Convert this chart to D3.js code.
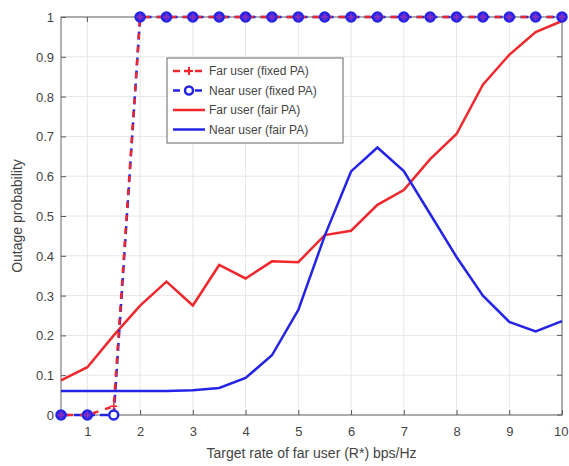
<!DOCTYPE html>
<html>
<head>
<meta charset="utf-8">
<script src="https://cdn.jsdelivr.net/npm/d3@7"></script>
<style>
html, body { margin: 0; padding: 0; background: #fff; overflow: hidden; }
svg { display: block; font-family: "Liberation Sans", Arial, sans-serif; }
</style>
</head>
<body>
<script>
// target rate values (x axis)
let rates = [0.5, 1, 1.5, 2, 2.5, 3, 3.5, 4, 4.5, 5, 5.5, 6, 6.5, 7, 7.5, 8, 8.5, 9, 9.5, 10];

// outage probability
let farFixed = [0, 0, 0.022, 1, 1, 1, 1, 1, 1, 1, 1, 1, 1, 1, 1, 1, 1, 1, 1, 1];
let nearFixed = [0, 0, 0, 1, 1, 1, 1, 1, 1, 1, 1, 1, 1, 1, 1, 1, 1, 1, 1, 1];
let farFair = [0.087, 0.12, 0.2, 0.275, 0.335, 0.275, 0.377, 0.343, 0.386, 0.384, 0.452, 0.463, 0.528, 0.565, 0.643, 0.706, 0.83, 0.905, 0.962, 0.99];
let nearFair = [0.06, 0.06, 0.06, 0.06, 0.06, 0.062, 0.068, 0.093, 0.15, 0.264, 0.45, 0.612, 0.672, 0.613, 0.505, 0.397, 0.3, 0.234, 0.21, 0.236];

let xTicks = [1, 2, 3, 4, 5, 6, 7, 8, 9, 10];
let yTicks = [0, 0.1, 0.2, 0.3, 0.4, 0.5, 0.6, 0.7, 0.8, 0.9, 1];

let legendNames = ["Far user (fixed PA)", "Near user (fixed PA)", "Far user (fair PA)", "Near user (fair PA)"];

let width = 569, height = 466;
let margin = { top: 17, right: 7, bottom: 51, left: 61 };
let innerWidth = width - margin.left - margin.right;
let innerHeight = height - margin.top - margin.bottom;

let red = "#f0282d", blue = "#2424e6";

let svg = d3.select("body").append("svg")
	.attr("width", width)
	.attr("height", height);

let g = svg.append("g")
	.attr("transform", `translate(${margin.left}, ${margin.top})`);

let x = d3.scaleLinear().domain([0.5, 10]).range([0, innerWidth]);
let y = d3.scaleLinear().domain([0, 1]).range([innerHeight, 0]);

//grid lines
g.append("g").selectAll("line").data(xTicks).join("line")
	.attr("x1", d => x(d)).attr("x2", d => x(d))
	.attr("y1", 0).attr("y2", innerHeight)
	.attr("stroke", "#e6e6e6");
g.append("g").selectAll("line").data(yTicks).join("line")
	.attr("y1", d => y(d)).attr("y2", d => y(d))
	.attr("x1", 0).attr("x2", innerWidth)
	.attr("stroke", "#e6e6e6");

//axes with inward ticks
let tickColor = "#555";
let xAxis = g.append("g")
	.attr("transform", `translate(0, ${innerHeight})`)
	.call(d3.axisBottom(x).tickValues(xTicks).tickSizeInner(-5).tickSizeOuter(0));
let yAxis = g.append("g")
	.call(d3.axisLeft(y).tickValues(yTicks).tickFormat(d3.format("~g")).tickSizeInner(-5).tickSizeOuter(0));

[xAxis, yAxis].forEach(a => {
	a.select(".domain").remove();
	a.selectAll("line").attr("stroke", tickColor);
	a.selectAll("text").attr("fill", "#444").attr("font-size", 13).attr("dy", null);
});
xAxis.selectAll("text").attr("y", 21);
yAxis.selectAll("text").attr("x", -7).attr("y", 4.5);
//last x label sits at the right edge, keep it inside
xAxis.selectAll("text").filter(d => d == 10).attr("text-anchor", "end").attr("x", 6);

//tick marks on top and right side of the box
g.append("g").selectAll("line").data(xTicks).join("line")
	.attr("x1", d => x(d)).attr("x2", d => x(d))
	.attr("y1", 0).attr("y2", 5)
	.attr("stroke", tickColor);
g.append("g").selectAll("line").data(yTicks).join("line")
	.attr("y1", d => y(d)).attr("y2", d => y(d))
	.attr("x1", innerWidth - 5).attr("x2", innerWidth)
	.attr("stroke", tickColor);

//box around the plot
g.append("rect")
	.attr("width", innerWidth).attr("height", innerHeight)
	.attr("fill", "none").attr("stroke", "#666").attr("stroke-width", 1);

let line = d3.line().x((d, i) => x(rates[i])).y(d => y(d));

//fair PA curves
g.append("path").datum(farFair)
	.attr("d", line).attr("fill", "none")
	.attr("stroke", red).attr("stroke-width", 2.5);
g.append("path").datum(nearFair)
	.attr("d", line).attr("fill", "none")
	.attr("stroke", blue).attr("stroke-width", 2.5);

//fixed PA curves, dashed with markers
g.append("path").datum(nearFixed)
	.attr("d", line).attr("fill", "none")
	.attr("stroke", blue).attr("stroke-width", 2.5)
	.attr("stroke-dasharray", "8,5");
g.append("path").datum(farFixed)
	.attr("d", line).attr("fill", "none")
	.attr("stroke", red).attr("stroke-width", 2.5)
	.attr("stroke-dasharray", "6,7").attr("stroke-dashoffset", 7);

g.append("g").selectAll("circle").data(nearFixed).join("circle")
	.attr("cx", (d, i) => x(rates[i])).attr("cy", d => y(d))
	.attr("r", 4.5)
	.attr("fill", (d, i) => i == 2 ? "#fff" : "#4a28d8")
	.attr("stroke", blue).attr("stroke-width", 2.5);
g.append("g").selectAll("path").data(farFixed).join("path")
	.attr("transform", (d, i) => `translate(${x(rates[i])}, ${y(d)})`)
	.attr("d", "M-3.5,0H3.5M0,-3.5V3.5")
	.attr("stroke-width", 1.5)
	.attr("stroke", (d, i) => i == 2 ? red : "#8a30c0");

//axis names
svg.append("text")
	.attr("x", margin.left + innerWidth / 2).attr("y", 458)
	.attr("text-anchor", "middle").attr("font-size", 14).attr("fill", "#444")
	.text("Target rate of far user (R*) bps/Hz");
svg.append("text")
	.attr("transform", `translate(22, ${margin.top + innerHeight / 2}) rotate(-90)`)
	.attr("text-anchor", "middle").attr("font-size", 14).attr("fill", "#444")
	.text("Outage probability");

//legend
let lg = svg.append("g").attr("transform", "translate(167, 58)");
lg.append("rect")
	.attr("width", 176).attr("height", 85)
	.attr("fill", "#fff").attr("stroke", "#666");
let rows = lg.selectAll("g").data(legendNames).join("g")
	.attr("transform", (d, i) => `translate(0, ${13 + i * 19.5})`);
rows.append("line")
	.attr("x1", 6).attr("x2", 38)
	.attr("stroke", (d, i) => i % 2 ? blue : red)
	.attr("stroke-width", 2.5)
	.attr("stroke-dasharray", (d, i) => i < 2 ? "7,4" : null);
rows.filter((d, i) => i == 0).append("path")
	.attr("d", "M18,0H26M22,-4V4").attr("stroke", red).attr("stroke-width", 2);
rows.filter((d, i) => i == 1).append("circle")
	.attr("cx", 22).attr("r", 4).attr("fill", "#fff")
	.attr("stroke", blue).attr("stroke-width", 2.5);
rows.append("text")
	.attr("x", 42).attr("y", 4)
	.attr("font-size", 12).attr("fill", "#444")
	.text(d => d);
</script>
</body>
</html>
